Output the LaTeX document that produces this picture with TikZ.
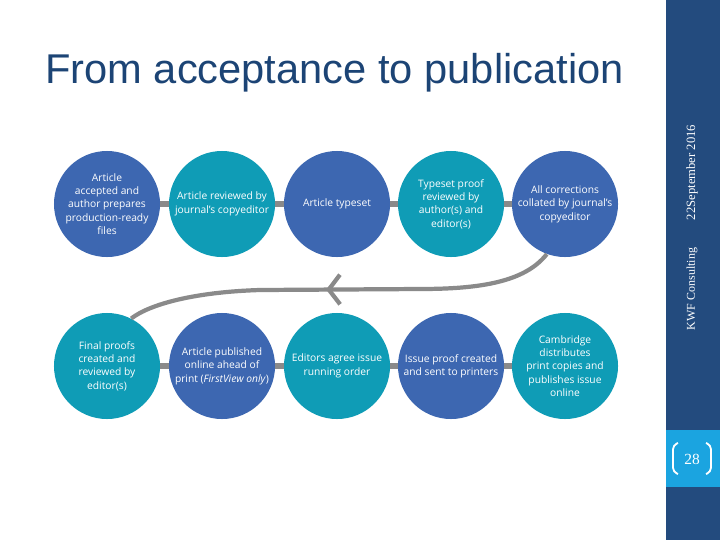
\documentclass[tikz,border=0pt]{standalone}
\usepackage{fontspec}
\setmainfont{Open Sans}
\newfontfamily\headfont{Liberation Sans}
\newfontfamily\barfont{Liberation Serif}
\usetikzlibrary{arrows.meta,decorations.markings}
\definecolor{stepblue}{HTML}{3D67B1}
\definecolor{stepteal}{HTML}{0F9CB6}
\definecolor{barblue}{HTML}{234B7E}
\definecolor{barcyan}{HTML}{1BA4E0}
\definecolor{linkgray}{HTML}{8A8A8A}
\definecolor{headblue}{HTML}{1C4475}

\begin{document}
\begin{tikzpicture}[x=0.025cm, y=-0.025cm, font=\fontsize{7.3}{9.5}\selectfont,
  st/.style={circle, minimum size=2.65cm, inner sep=0pt, align=center, text=white},
  bl/.style={st, fill=stepblue},
  tl/.style={st, fill=stepteal},
  link/.style={draw=linkgray, line width=3.6pt},
  back/.style={draw=linkgray, line width=3pt,
               postaction={decorate, decoration={markings,
                 mark=at position 0.535 with {\arrow{Straight Barb[length=8pt, width=21pt, line width=3pt]}}}}},
]
  \useasboundingbox[fill=white] (0,0) rectangle (720,540);

  % side bar
  \fill[barblue] (666,0) rectangle (720,540);
  \fill[barcyan] (666,430) rectangle (720,487);
  \node[rotate=90, anchor=west, text=white, font=\barfont\fontsize{8.5}{10}\selectfont] (org) at (692,335) {KWF Consulting};
  \node[rotate=90, anchor=west, text=white, font=\barfont\fontsize{9}{10}\selectfont] (date) at (692,225) {22September 2016};
  \node[text=white, font=\barfont\fontsize{11}{12}\selectfont] (pg) at (692,459) {28};
  \draw[white, line width=1.3pt, rounded corners=3pt] (678,443) -- (673,445) -- (673,472) -- (678,474);
  \draw[white, line width=1.3pt, rounded corners=3pt] (706,443) -- (711,445) -- (711,472) -- (706,474);

  % title
  \node[anchor=base west, inner sep=0pt, text=headblue, font=\headfont\fontsize{29.6}{34}\selectfont] (title) at (45,83) {From acceptance to publication};

  % top row
  \node[bl] (a) at (107,204) {Article\\accepted and\\author prepares\\production-ready\\files};
  \node[tl] (b) at (222,204) {Article reviewed by\\journal’s copyeditor};
  \node[bl] (c) at (337,204) {Article typeset};
  \node[tl] (d) at (451,204) {Typeset proof\\reviewed by\\author(s) and\\editor(s)};
  \node[bl] (e) at (565,204) {All corrections\\collated by journal’s\\copyeditor};

  % bottom row
  \node[tl] (f) at (107,366) {Final proofs\\created and\\reviewed by\\editor(s)};
  \node[bl] (g) at (222,366) {Article published\\online ahead of\\print (\textit{FirstView only})};
  \node[tl] (h) at (337,366) {Editors agree issue\\running order};
  \node[bl] (i) at (451,366) {Issue proof created\\and sent to printers};
  \node[tl] (j) at (565,366) {Cambridge\\distributes\\print copies and\\publishes issue\\online};

  \foreach \p/\q in {a/b, b/c, c/d, d/e, f/g, g/h, h/i, i/j}
    \draw[link] (\p) -- (\q);

  \draw[back] (e.250) .. controls (525,282) and (480,289) .. (420,289)
    -- (260,290) .. controls (195,292) and (150,304) .. (f.63);
\end{tikzpicture}
\end{document}
